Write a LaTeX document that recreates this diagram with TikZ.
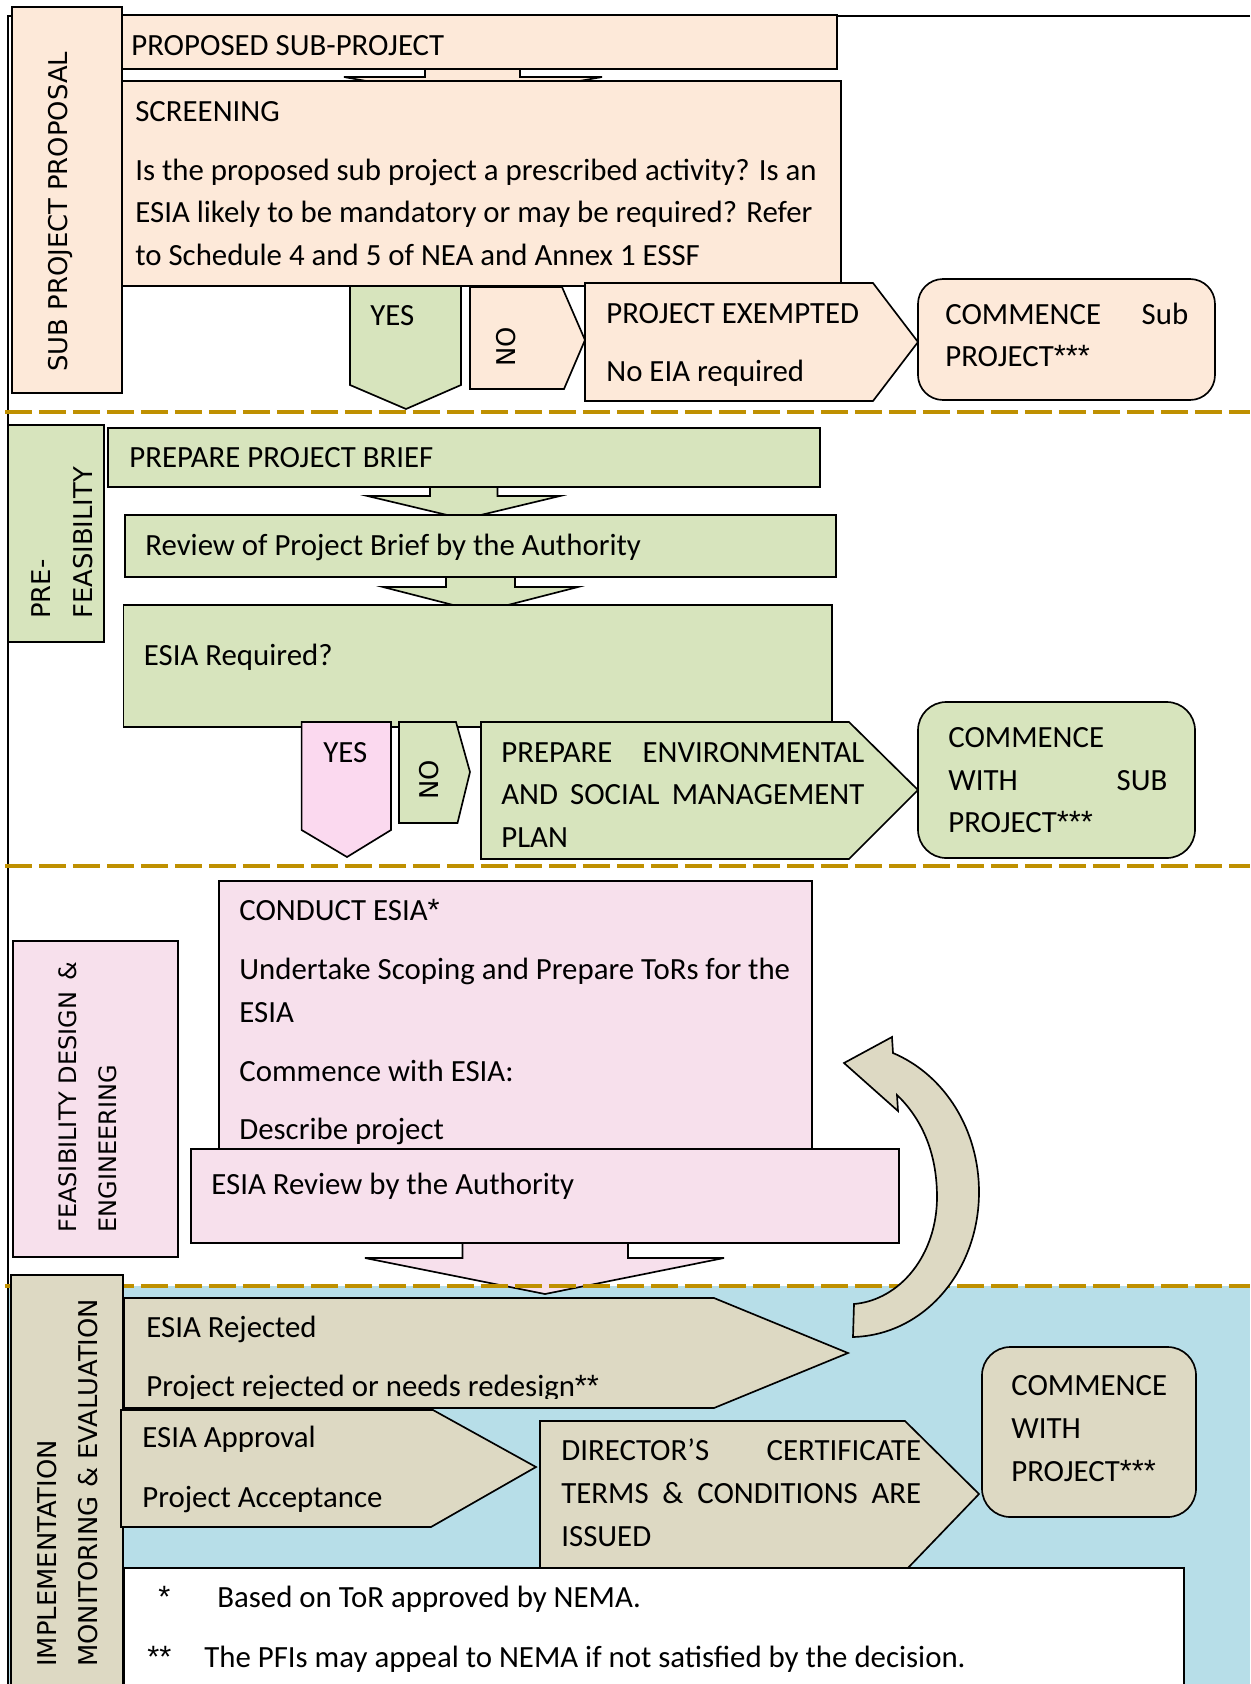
\documentclass[tikz,border=0pt]{standalone}
\usepackage{fontspec}
\setmainfont{Carlito}
\newfontfamily\sidefont{DejaVu Sans}
\newfontfamily\astfont{Liberation Sans}
\newcommand\stars[1]{{\astfont #1}}
\usetikzlibrary{fit}
\newlength\upx \setlength\upx{0.6pt}
\definecolor{peachbg}{HTML}{FDE9D9}
\definecolor{greenbg}{HTML}{D7E4BD}
\definecolor{pinkyes}{HTML}{FBD9EF}
\definecolor{pinkbg}{HTML}{F7E0EC}
\definecolor{tanbg}{HTML}{DDD9C3}
\definecolor{aquabg}{HTML}{B7DEE8}
\definecolor{goldline}{HTML}{BF9000}
\tikzset{
 bx/.style={draw=black, line width=1pt, line join=miter},
 fitbox/.style={bx, inner sep=0pt},
 txt/.style={inner sep=0pt, anchor=base west, font=\fontsize{18.5}{22}\selectfont},
 sidetxt/.style={inner sep=0pt, anchor=base west, rotate=90, font=\sidefont\fontsize{15.5}{18}\selectfont},
 sepline/.style={draw=goldline, line width=2.7pt, dash pattern=on 16.2pt off 4.2pt},
 frameline/.style={draw=black, line width=1.2pt},
}
\begin{document}
\begin{tikzpicture}[x=0.6pt, y=-0.6pt]
\useasboundingbox (0,0) rectangle (1250,1684);
% background of last section
\fill[aquabg] (8,1286) rectangle (1250,1684);
% outer frame
\coordinate (fa) at (1250,15.5);
\coordinate (fb) at (8,15.5);
\coordinate (fc) at (8,1684);
\draw[frameline] (fa) -- (fb) -- (fc);

% ---------------- Section 1 ----------------
\filldraw[bx, fill=peachbg] (425,40) -- (425,77) -- (344,77) -- (472,100) -- (602,77) -- (520,77) -- (520,40) -- cycle;
\node[fitbox, fill=peachbg, fit={(122,15)(837,69)}] (prop) {};
\node[fitbox, fill=peachbg, fit={(115,81)(841,286)}] (screen) {};
\node[fitbox, fill=peachbg, fit={(12,6.7)(122,393)}] (side1) {};
\node[sidetxt] (s1) at (68,372) {SUB PROJECT PROPOSAL};
\node[txt] (t1) at (131,55) {PROPOSED SUB-PROJECT};
\node[txt] (t2) at (135,121) {SCREENING};
\node[txt] (t3) at (135,180) {Is the proposed sub project a prescribed activity? Is an};
\node[txt] (t4) at (135,222) {ESIA likely to be mandatory or may be required? Refer};
\node[txt] (t5) at (135,265) {to Schedule 4 and 5 of NEA and Annex 1 ESSF};
\filldraw[bx, fill=greenbg] (350,286) -- (350,385) -- (406,409) -- (461,385) -- (461,286) -- cycle;
\node[txt] (t6) at (370,325) {YES};
\filldraw[bx, fill=peachbg] (470,287) -- (562,287) -- (585,340) -- (564,389) -- (470,389) -- cycle;
\node[sidetxt] (t7) at (515,367) {NO};
\filldraw[bx, fill=peachbg] (585,283) -- (873,283) -- (918,342) -- (873,401) -- (585,401) -- cycle;
\node[txt] (t8) at (606,323) {PROJECT EXEMPTED};
\node[txt] (t9) at (606,381) {No EIA required};
\node[fitbox, fill=peachbg, rounded corners=15pt, fit={(918,279)(1215,400)}] (com1) {};
\node[txt] (t10) at (945,324) {\makebox[243\upx][s]{COMMENCE Sub}};
\node[txt] (t11) at (945,366) {PROJECT\stars{***}};

\coordinate (d1a) at (5,412);
\coordinate (d1b) at (1250,412);
\draw[sepline] (d1a) -- (d1b);

% ---------------- Section 2 ----------------
\filldraw[bx, fill=greenbg] (430,480) -- (430,496) -- (367.5,496) -- (464,519) -- (560,496) -- (497.5,496) -- (497.5,480) -- cycle;
\node[fitbox, fill=greenbg, fit={(108,428)(820,487)}] (brief) {};
\filldraw[bx, fill=greenbg] (446,570) -- (446,587) -- (383,587) -- (480.5,612) -- (578,587) -- (515,587) -- (515,570) -- cycle;
\node[fitbox, fill=greenbg, fit={(124.7,515)(836,577)}] (review) {};
\node[fitbox, fill=greenbg, fit={(123.6,605)(832,727)}] (esiareq) {};
\node[fitbox, fill=greenbg, fit={(8.6,425)(104,642)}] (side2) {};
\node[sidetxt] (s2a) at (50,619) {PRE-};
\node[sidetxt] (s2b) at (92,619) {FEASIBILITY};
\node[txt] (t12) at (129,467) {PREPARE PROJECT BRIEF};
\node[txt] (t13) at (145,555) {Review of Project Brief by the Authority};
\node[txt] (t14) at (143.6,665) {ESIA Required?};
\filldraw[bx, fill=pinkyes] (301.6,722) -- (301.6,830) -- (347,857) -- (391,830) -- (391,722) -- cycle;
\node[txt] (t15) at (323,762) {YES};
\filldraw[bx, fill=greenbg] (399,722) -- (456,722) -- (470,772) -- (457.5,823) -- (399,823) -- cycle;
\node[sidetxt] (t16) at (438,800) {NO};
\filldraw[bx, fill=greenbg] (481,722) -- (849,722) -- (918,790) -- (849,859) -- (481,859) -- cycle;
\node[txt] (t17) at (501,762) {\makebox[363\upx][s]{PREPARE ENVIRONMENTAL}};
\node[txt] (t18) at (501,804) {\makebox[363\upx][s]{AND SOCIAL MANAGEMENT}};
\node[txt] (t19) at (501,847) {PLAN};
\node[fitbox, fill=greenbg, rounded corners=17pt, fit={(918,702)(1195,858)}] (com2) {};
\node[txt] (t20) at (948,747) {COMMENCE};
\node[txt] (t21) at (948,790) {\makebox[219\upx][s]{WITH SUB}};
\node[txt] (t22) at (948,832) {PROJECT\stars{***}};

\coordinate (d2a) at (5,866);
\coordinate (d2b) at (1250,866);
\draw[sepline] (d2a) -- (d2b);

% ---------------- Section 3 ----------------
\node[fitbox, fill=pinkbg, fit={(13,941)(178,1257)}] (side3) {};
\node[sidetxt, font=\sidefont\fontsize{14.4}{17}\selectfont] (s3a) at (76,1233) {\makebox[271\upx]{FEASIBILITY DESIGN\hfill\&}};
\node[sidetxt, font=\sidefont\fontsize{14.4}{17}\selectfont] (s3b) at (116,1233) {ENGINEERING};
\node[fitbox, fill=pinkbg, fit={(219,881)(812,1160)}] (conduct) {};
\node[txt] (t23) at (239,920) {CONDUCT ESIA\stars{*}};
\node[txt] (t24) at (239,979) {Undertake Scoping and Prepare ToRs for the};
\node[txt] (t25) at (239,1022) {ESIA};
\node[txt] (t26) at (239,1081) {Commence with ESIA:};
\node[txt] (t27) at (239,1139) {Describe project};
\filldraw[bx, fill=pinkbg] (462.5,1230) -- (462.5,1258) -- (365,1258) -- (545,1294) -- (724,1258) -- (628,1258) -- (628,1230) -- cycle;
\node[fitbox, fill=pinkbg, fit={(191,1149)(899,1243)}] (esiarev) {};
\node[txt] (t28) at (211,1194) {ESIA Review by the Authority};

\coordinate (d3a) at (5,1286);
\coordinate (d3b) at (1250,1286);
\draw[sepline] (d3a) -- (d3b);

% curved return arrow
\filldraw[bx, fill=tanbg] (844,1063) -- (892,1037) -- (893,1053)
  .. controls (945,1075) and (979,1130) .. (979,1192)
  .. controls (979,1270) and (925,1335) .. (853,1337)
  -- (854,1304)
  .. controls (900,1300) and (937,1255) .. (937,1197)
  .. controls (937,1150) and (920,1117) .. (897,1095)
  -- (898,1111) -- cycle;

% ---------------- Section 4 ----------------
\node[fitbox, fill=tanbg, fit={(10.7,1275)(123,1700)}] (side4) {};
\node[sidetxt] (s4a) at (56,1667) {IMPLEMENTATION};
\node[sidetxt] (s4b) at (97,1667) {MONITORING \& EVALUATION};
\filldraw[bx, fill=tanbg] (124,1298) -- (714,1298) -- (848,1353) -- (714,1408) -- (124,1408) -- cycle;
\node[txt] (t29) at (146,1337) {ESIA Rejected};
\begin{scope}
\clip (124,1298) rectangle (848,1398);
\node[txt] (t30) at (146,1396) {Project rejected or needs redesign\stars{**}};
\end{scope}
\filldraw[bx, fill=tanbg] (121,1410) -- (433,1410) -- (536,1467) -- (431,1527) -- (121,1527) -- cycle;
\node[txt] (t31) at (142,1447) {ESIA Approval};
\node[txt] (t32) at (142,1507) {Project Acceptance};
\filldraw[bx, fill=tanbg] (540,1421) -- (905,1421) -- (979,1494) -- (906,1570) -- (540,1570) -- cycle;
\node[txt] (t33) at (561,1460) {\makebox[360\upx][s]{DIRECTOR’S CERTIFICATE}};
\node[txt] (t34) at (561,1503) {\makebox[360\upx][s]{TERMS \& CONDITIONS ARE}};
\node[txt] (t35) at (561,1546) {ISSUED};
\node[fitbox, fill=tanbg, rounded corners=17pt, fit={(982,1347)(1196,1517)}] (com4) {};
\node[txt] (t36) at (1011,1395) {COMMENCE};
\node[txt] (t37) at (1011,1438) {WITH};
\node[txt] (t38) at (1011,1481) {PROJECT\stars{***}};
\node[fitbox, fill=white, fit={(124,1568)(1184,1700)}] (notes) {};
\node[txt] (t39) at (158,1607) {\stars{*}};
\node[txt] (t40) at (217,1607) {Based on ToR approved by NEMA.};
\node[txt] (t41) at (147,1667) {\stars{**}};
\node[txt] (t42) at (204,1667) {The PFIs may appeal to NEMA if not satisfied by the decision.};
\end{tikzpicture}
\end{document}
